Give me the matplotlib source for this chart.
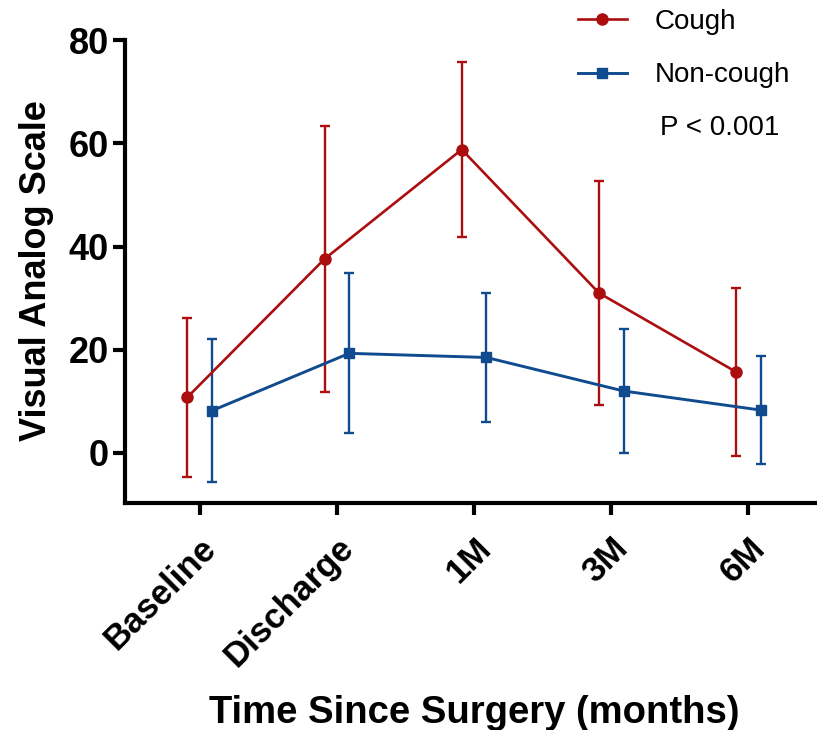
import matplotlib
matplotlib.use("Agg")
import matplotlib.pyplot as plt
import numpy as np
from matplotlib.lines import Line2D

plt.rcParams['font.family'] = ['Liberation Sans', 'DejaVu Sans']

categories = ["Baseline", "Discharge", "1M", "3M", "6M"]
cough_mean = [10.8, 37.6, 58.8, 31.0, 15.7]
cough_err = [15.4, 25.8, 16.9, 21.7, 16.2]
noncough_mean = [8.2, 19.3, 18.5, 12.0, 8.3]
noncough_err = [13.8, 15.5, 12.5, 12.0, 10.5]

RED = "#AC0E10"
BLUE = "#0F4B8E"

fig = plt.figure(figsize=(8.17, 7.30), dpi=100)
ax = fig.add_axes([0.153, 0.311, 0.847, 0.634])

x = np.arange(len(categories))
off = 0.09

ax.errorbar(x - off, cough_mean, yerr=cough_err, color=RED, marker="o",
            markersize=8, linewidth=1.9, elinewidth=1.7, capsize=3.5,
            capthick=1.7, zorder=3)
ax.errorbar(x + off, noncough_mean, yerr=noncough_err, color=BLUE, marker="s",
            markersize=7, linewidth=2.1, elinewidth=1.7, capsize=3.5,
            capthick=1.7, zorder=3)

ax.set_xlim(-0.545, 4.5)
ax.set_ylim(-9.7, 80)
ax.set_yticks([0, 20, 40, 60, 80])
ax.set_xticks(x)
ax.set_xticklabels(categories, rotation=45, ha="right", rotation_mode="anchor",
                   fontsize=25, fontweight="bold")
for lab in ax.get_yticklabels():
    lab.set_fontsize(26)
    lab.set_fontweight("bold")

for side in ["top", "right"]:
    ax.spines[side].set_visible(False)
ax.spines["left"].set_linewidth(3)
ax.spines["bottom"].set_linewidth(3)
ax.tick_params(axis="y", width=3, length=8.5, pad=3)
ax.tick_params(axis="x", width=3, length=8.5, pad=12)

ax.set_ylabel("Visual Analog Scale", fontsize=26, fontweight="bold",
              ha="center", va="center")
ax.yaxis.set_label_coords(-0.128, 0.503)
ax.set_xlabel("Time Since Surgery (months)", fontsize=27.5, fontweight="bold",
              ha="center", va="center")
ax.xaxis.set_label_coords(0.504, -0.454)

handles = [
    Line2D([], [], color=RED, marker="o", markersize=8, linewidth=1.9),
    Line2D([], [], color=BLUE, marker="s", markersize=7, linewidth=2.1),
]
leg = ax.legend(handles, ["Cough", "Non-cough"], loc="upper left",
                bbox_to_anchor=(0.6546, 1.067), frameon=False, fontsize=20,
                handlelength=1.75, labelspacing=0.98, handletextpad=1.0,
                borderpad=0, borderaxespad=0)
ax.text(0.860, 0.811, "P < 0.001", transform=ax.transAxes, fontsize=20,
        ha="center", va="center")

fig.savefig("out.png", dpi=100)
